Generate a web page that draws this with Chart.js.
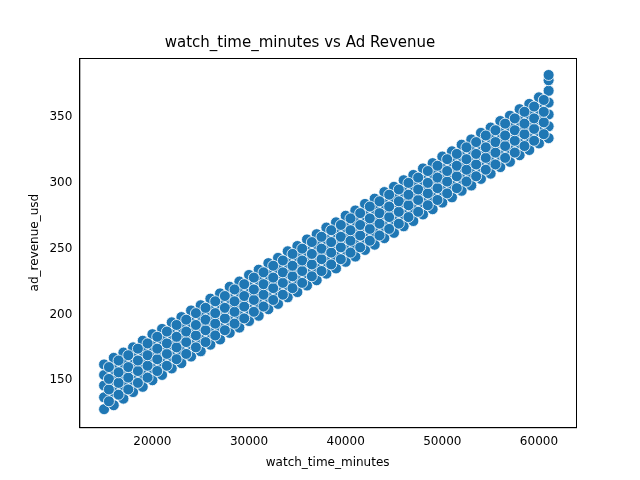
<!DOCTYPE html>
<html>
<head>
<meta charset="utf-8">
<script src="https://cdn.jsdelivr.net/npm/chart.js@4/dist/chart.umd.min.js"></script>
<style>body{margin:0;background:#fff}</style>
</head>
<body>
<canvas id="c" width="640" height="480"></canvas>
<script>
// watch time columns (minutes) and the revenue values
const watchMinutes = [15000,16000,17000,18000,19000,20000,21000,22000,23000,24000,25000,26000,27000,28000,29000,30000,31000,32000,33000,34000,35000,36000,37000,38000,39000,40000,41000,42000,43000,44000,45000,46000,47000,48000,49000,50000,51000,52000,53000,54000,55000,56000,57000,58000,59000,60000,61000];
const revenueRows = [
  [128,137,146,154,162],[131,141,150,158,167],[136,146,154,163,171],[141,150,159,167,175],
  [145,154,163,172,180],[150,159,168,176,185],[154,163,172,181,189],[159,168,177,185,194],
  [163,172,181,190,198],[168,177,186,194,203],[172,181,190,199,207],[177,186,195,203,212],
  [181,190,199,208,216],[186,195,204,212,221],[190,199,208,217,225],[195,204,213,221,230],
  [199,208,217,226,234],[204,213,222,230,239],[208,217,226,235,243],[213,222,231,239,248],
  [217,226,235,244,252],[222,231,240,248,257],[226,235,244,253,261],[231,240,249,257,266],
  [235,244,253,262,270],[240,249,258,266,275],[244,253,262,271,279],[249,258,267,275,284],
  [253,262,271,280,288],[258,267,276,284,293],[262,271,280,289,297],[267,276,285,293,302],
  [271,280,289,298,306],[276,285,294,302,311],[280,289,298,307,315],[285,294,303,311,320],
  [289,298,307,316,324],[294,303,312,320,329],[298,307,316,325,333],[303,312,321,329,338],
  [307,316,325,334,342],[312,321,330,338,347],[316,325,334,343,351],[321,330,339,347,356],
  [325,334,343,352,360],[330,339,348,356,365],[334,343,352,361,370,378,382]
];
// in-between columns
const midMinutes = [15500,16500,17500,18500,19500,20500,21500,22500,23500,24500,25500,26500,27500,28500,29500,30500,31500,32500,33500,34500,35500,36500,37500,38500,39500,40500,41500,42500,43500,44500,45500,46500,47500,48500,49500,50500,51500,52500,53500,54500,55500,56500,57500,58500,59500,60500];
const midRevenueRows = [
  [134,143,151,160],[139,148,156,165],[143,152,160,169],[148,157,165,174],
  [152,161,169,178],[157,166,174,183],[161,170,178,187],[166,175,183,192],
  [170,179,187,196],[175,184,192,201],[179,188,196,205],[184,193,201,210],
  [188,197,205,214],[193,202,210,219],[197,206,214,223],[202,211,219,228],
  [206,215,223,232],[211,220,228,237],[215,224,232,241],[220,229,237,246],
  [224,233,241,250],[229,238,246,255],[233,242,250,259],[238,247,255,264],
  [242,251,259,268],[247,256,264,273],[251,260,268,277],[256,265,273,282],
  [260,269,277,286],[265,274,282,291],[269,278,286,295],[274,283,291,300],
  [278,287,295,304],[283,292,300,309],[287,296,304,313],[292,301,309,318],
  [296,305,313,322],[301,310,318,327],[305,314,322,331],[310,319,327,336],
  [314,323,331,340],[319,328,336,345],[323,332,340,349],[328,337,345,354],
  [332,341,349,358],[337,346,354,363]
];

const points = [];
watchMinutes.forEach((w, i) => revenueRows[i].forEach(r => points.push({x: w, y: r})));
midMinutes.forEach((w, i) => midRevenueRows[i].forEach(r => points.push({x: w, y: r})));

const frame = {
  id: 'frame',
  afterDraw(chart) {
    const a = chart.chartArea, ctx = chart.ctx;
    ctx.save();
    ctx.strokeStyle = '#000';
    ctx.lineWidth = 1;
    ctx.strokeRect(a.left + 0.5, a.top + 0.5, a.right - a.left, a.bottom - a.top);
    ctx.restore();
  }
};

new Chart(document.getElementById('c'), {
  type: 'scatter',
  data: {datasets: [{data: points, backgroundColor: '#1f77b4', borderColor: '#ffffff', borderWidth: 0.8, pointRadius: 5.5}]},
  options: {
    responsive: false, animation: false, devicePixelRatio: 1,
    layout: {padding: {left: 24, right: 64, top: 14, bottom: 6}},
    plugins: {
      legend: {display: false},
      tooltip: {enabled: false},
      title: {display: true, text: 'watch_time_minutes vs Ad Revenue', color: '#000',
        font: {family: 'DejaVu Sans', size: 15, weight: 'normal'}, padding: {top: 20, bottom: 6}}
    },
    scales: {
      x: {type: 'linear', min: 12435, max: 63834,
        grid: {display: false, tickLength: 4, color: '#000'},
        border: {color: '#000'},
        afterBuildTicks: a => { a.ticks = [20000,30000,40000,50000,60000].map(v => ({value: v})); },
        ticks: {color: '#000', font: {family: 'DejaVu Sans', size: 12}, callback: v => String(v)},
        title: {display: true, text: 'watch_time_minutes', color: '#000', font: {family: 'DejaVu Sans', size: 12}}
      },
      y: {min: 114.3, max: 394.9,
        grid: {display: false, tickLength: 4, color: '#000'},
        border: {color: '#000'},
        afterBuildTicks: a => { a.ticks = [150,200,250,300,350].map(v => ({value: v})); },
        ticks: {color: '#000', font: {family: 'DejaVu Sans', size: 12}},
        title: {display: true, text: 'ad_revenue_usd', color: '#000', font: {family: 'DejaVu Sans', size: 12}}
      }
    }
  },
  plugins: [frame]
});
</script>
</body>
</html>
